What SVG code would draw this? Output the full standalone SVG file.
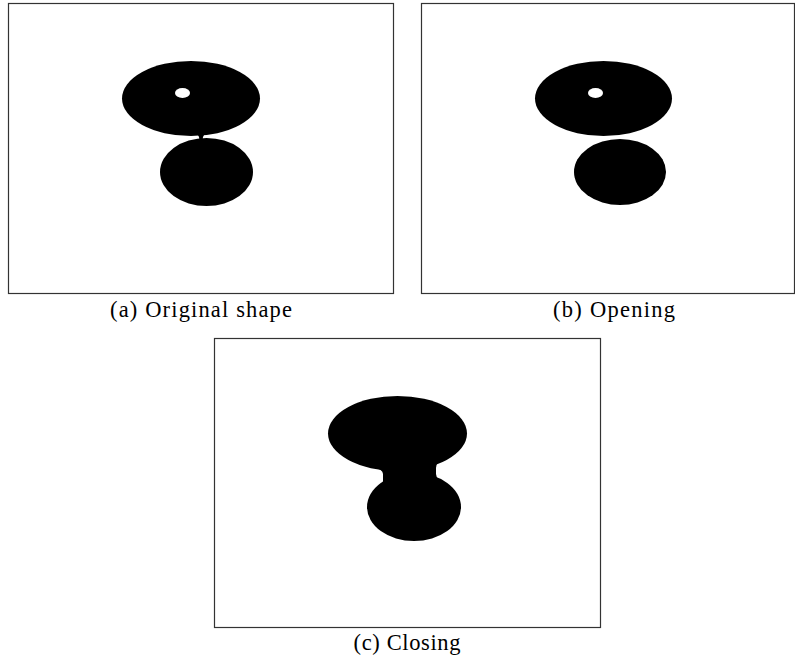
<svg xmlns="http://www.w3.org/2000/svg" width="795" height="659" viewBox="0 0 795 659">
<style>
.frame{fill:#fff;stroke:#333;stroke-width:1.2}
.blob{fill:#000}
.hole{fill:#fff}
.cap{font-family:"Liberation Serif","Times New Roman",serif;font-size:22.5px;fill:#000;text-anchor:middle}
</style>
<rect width="795" height="659" fill="#fff"/>
<g id="panel-a">
<rect class="frame" x="8.5" y="3.5" width="385" height="290"/>
<ellipse class="blob" cx="191" cy="98.5" rx="69" ry="37.5"/>
<ellipse class="hole" cx="182.5" cy="93" rx="7.5" ry="5"/>
<ellipse class="blob" cx="206.5" cy="172" rx="46.5" ry="34"/>
<path class="blob" d="M197,134 Q200,137 199,140 L203,140 Q202,137 205,134 Z"/>
<text class="cap" x="201" y="317" textLength="182" lengthAdjust="spacing">(a)  Original shape</text>
</g>
<g id="panel-b">
<rect class="frame" x="421.5" y="3.5" width="373" height="290"/>
<ellipse class="blob" cx="603.5" cy="98.5" rx="68.5" ry="37.5"/>
<ellipse class="hole" cx="595.5" cy="93" rx="7.5" ry="5"/>
<ellipse class="blob" cx="620" cy="172" rx="46" ry="33"/>
<text class="cap" x="614" y="317" textLength="122" lengthAdjust="spacing">(b)  Opening</text>
</g>
<g id="panel-c">
<rect class="frame" x="214.5" y="338.5" width="386" height="289"/>
<ellipse class="blob" cx="397.5" cy="433.5" rx="69.5" ry="37.5"/>
<ellipse class="blob" cx="414" cy="507" rx="47" ry="34"/>
<path class="blob" d="M372,467 Q383,469 383,474 L383,481 Q383,486 376,490 L446,485 Q436,479 436,474 L436,468 Q436,462 444,458 Z"/>
<text class="cap" x="407" y="650" textLength="107" lengthAdjust="spacing">(c)  Closing</text>
</g>
</svg>
